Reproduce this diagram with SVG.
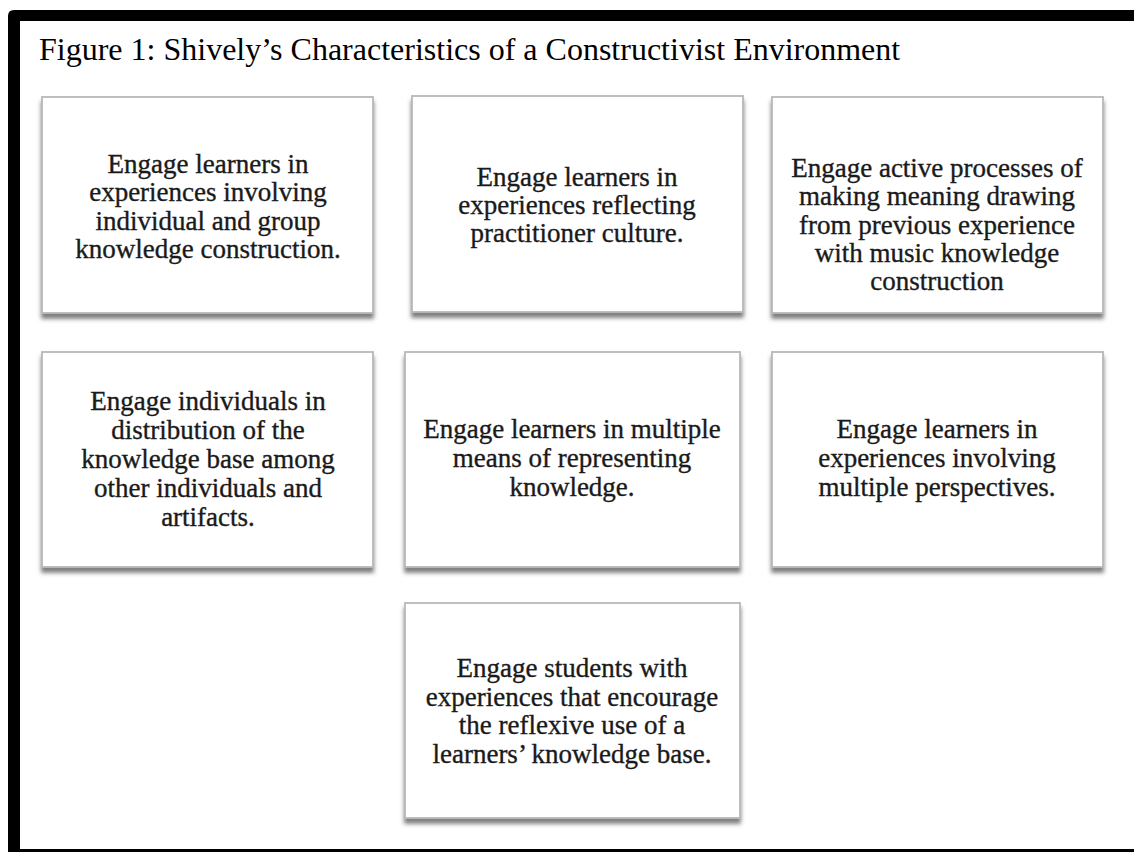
<svg xmlns="http://www.w3.org/2000/svg" width="1134" height="852" viewBox="0 0 1134 852">
  <style>
    .box { fill: #ffffff; stroke: #b8b8b8; stroke-width: 1.8; filter: url(#shadow); }
    .lbl { font-family: "Liberation Serif", "Times New Roman", serif; font-size: 27px; fill: #1a1a1a; stroke: #1a1a1a; stroke-width: 0.35; text-anchor: middle; }
    .title { font-family: "Liberation Serif", "Times New Roman", serif; font-size: 32px; fill: #000000; }
  </style>
  <defs>
    <filter id="shadow" x="-5%" y="-5%" width="110%" height="115%">
      <feDropShadow dx="0" dy="5" stdDeviation="2.2" flood-color="#5f5f5f" flood-opacity="0.8"/>
    </filter>
  </defs>
  <rect x="0" y="0" width="1134" height="852" fill="#ffffff"/>
  <g id="frame">
    <path d="M8 852 V16 Q8 10 14 10 H1134 V21 H20 V852 Z" fill="#000000"/>
    <rect x="8" y="849" width="1126" height="3" fill="#000000"/>
  </g>
  <text id="title" class="title" x="39" y="60">Figure 1: Shively’s Characteristics of a Constructivist Environment</text>
  <g id="connectors"/>
  <g id="node1">
    <rect class="box" x="42" y="97" width="331" height="216"/>
    <text class="lbl" x="208" y="173">Engage learners in</text>
    <text class="lbl" x="208" y="201">experiences involving</text>
    <text class="lbl" x="208" y="229.5">individual and group</text>
    <text class="lbl" x="208" y="258">knowledge construction.</text>
  </g>
  <g id="node2">
    <rect class="box" x="412" y="96" width="331" height="216"/>
    <text class="lbl" x="577" y="186">Engage learners in</text>
    <text class="lbl" x="577" y="214">experiences reflecting</text>
    <text class="lbl" x="577" y="242">practitioner culture.</text>
  </g>
  <g id="node3">
    <rect class="box" x="772" y="97" width="331" height="216"/>
    <text class="lbl" x="937" y="177">Engage active processes of</text>
    <text class="lbl" x="937" y="205">making meaning drawing</text>
    <text class="lbl" x="937" y="233.5">from previous experience</text>
    <text class="lbl" x="937" y="262">with music knowledge</text>
    <text class="lbl" x="937" y="290">construction</text>
  </g>
  <g id="node4">
    <rect class="box" x="42" y="352" width="331" height="215"/>
    <text class="lbl" x="208" y="410">Engage individuals in</text>
    <text class="lbl" x="208" y="438.5">distribution of the</text>
    <text class="lbl" x="208" y="467.5">knowledge base among</text>
    <text class="lbl" x="208" y="496.5">other individuals and</text>
    <text class="lbl" x="208" y="525.5">artifacts.</text>
  </g>
  <g id="node5">
    <rect class="box" x="405" y="352" width="335" height="215"/>
    <text class="lbl" x="572" y="438">Engage learners in multiple</text>
    <text class="lbl" x="572" y="467">means of representing</text>
    <text class="lbl" x="572" y="496">knowledge.</text>
  </g>
  <g id="node6">
    <rect class="box" x="772" y="352" width="331" height="215"/>
    <text class="lbl" x="937" y="438">Engage learners in</text>
    <text class="lbl" x="937" y="467">experiences involving</text>
    <text class="lbl" x="937" y="496">multiple perspectives.</text>
  </g>
  <g id="node7">
    <rect class="box" x="405" y="603" width="335" height="215"/>
    <text class="lbl" x="572" y="677">Engage students with</text>
    <text class="lbl" x="572" y="705.5">experiences that encourage</text>
    <text class="lbl" x="572" y="734">the reflexive use of a</text>
    <text class="lbl" x="572" y="763">learners’ knowledge base.</text>
  </g>
</svg>
